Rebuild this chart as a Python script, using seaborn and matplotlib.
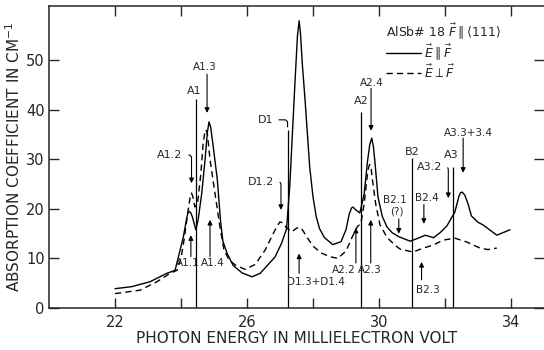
import matplotlib
matplotlib.use("Agg")
import matplotlib.pyplot as plt
import seaborn as sns
import pandas as pd

# absorption spectrum, E parallel F (solid)
par_x = [22.0, 22.5, 23.06, 23.57, 23.82, 23.9, 24.07, 24.17, 24.21, 24.25, 24.3, 24.35,
         24.45, 24.52, 24.63, 24.73, 24.8, 24.85, 24.9, 24.97, 25.1, 25.2,
         25.27, 25.4, 25.58, 25.85, 26.15, 26.4, 26.55, 26.85, 27.05, 27.2,
         27.3, 27.45, 27.53, 27.58, 27.62, 27.68, 27.76, 27.9, 28.0, 28.1, 28.2, 28.35, 28.6,
         28.85, 29.0, 29.1, 29.17, 29.21, 29.3, 29.42, 29.55, 29.65, 29.72, 29.78, 29.83, 29.88,
         29.97, 30.1, 30.24, 30.4, 30.6, 30.94, 31.15, 31.4, 31.65, 31.85,
         32.06, 32.3, 32.42, 32.47, 32.52, 32.6, 32.7, 32.8, 33.0, 33.15, 33.57, 33.97]
par_y = [3.9, 4.3, 5.3, 7.0, 7.6, 9.7, 14.3, 18.0, 19.2, 19.5, 19.2, 18.3,
         15.8, 17.8, 23.2, 30.0, 35.5, 37.6, 36.5, 33.0, 26.0, 17.5,
         13.5, 11.0, 8.6, 7.1, 6.3, 7.0, 8.1, 10.3, 13.1, 16.0,
         25.0, 45.0, 55.0, 58.0, 55.5, 49.0, 42.0, 28.5, 22.5, 18.4, 16.0, 14.2, 12.8,
         13.4, 15.8, 19.0, 20.2, 20.4, 19.8, 19.2, 23.0, 29.5, 33.0, 34.3, 32.6, 29.3,
         22.4, 18.5, 16.4, 15.2, 14.4, 13.5, 14.0, 14.7, 14.2, 15.2,
         16.6, 19.4, 22.5, 23.3, 23.4, 22.8, 21.0, 18.6, 17.3, 16.8, 14.7, 15.8]

# E perpendicular F (dashed)
perp_x = [22.0, 22.76, 23.27, 23.67, 23.88, 24.0, 24.1, 24.2, 24.28, 24.32, 24.36, 24.42,
          24.5, 24.6, 24.67, 24.72, 24.76, 24.8, 24.88, 25.03, 25.18, 25.3, 25.45, 25.64,
          25.94, 26.25, 26.55, 26.8, 26.92, 27.0, 27.08, 27.17, 27.35, 27.5, 27.6, 27.68, 27.8, 28.0,
          28.25, 28.5, 28.75, 29.0, 29.2, 29.35, 29.45, 29.55, 29.65, 29.69, 29.72,
          29.76, 29.8, 29.9, 30.03, 30.25, 30.5, 30.64, 31.03, 31.3, 31.64, 31.94,
          32.3, 32.67, 33.06, 33.3, 33.57]
perp_y = [2.9, 3.6, 5.3, 7.0, 7.6, 10.0, 14.0, 19.0, 22.5, 23.2, 22.5, 20.4,
          21.0, 27.0, 33.0, 35.4, 36.0, 35.2, 30.0, 23.2, 16.4, 11.8, 9.8, 8.7,
          7.8, 8.8, 11.7, 15.1, 16.6, 17.4, 17.2, 16.4, 15.4, 16.1, 16.3, 15.8, 14.5, 12.5,
          11.1, 10.4, 10.0, 11.5, 14.5, 16.5, 17.0, 21.0, 27.0, 28.5, 29.0,
          28.3, 26.0, 21.0, 16.8, 14.2, 12.6, 11.9, 11.3, 12.0, 12.7, 13.7,
          14.1, 13.3, 12.1, 11.8, 12.1]

lab_par = r"$\vec{E}\parallel\vec{F}$"
lab_perp = r"$\vec{E}\perp\vec{F}$"

df = pd.concat([
    pd.DataFrame({"energy": par_x, "alpha": par_y, "pol": lab_par}),
    pd.DataFrame({"energy": perp_x, "alpha": perp_y, "pol": lab_perp}),
], ignore_index=True)

# labelled vertical lines
line_lbl = ["A1", "A2", "B2", "A3"]
line_x = [24.45, 29.47, 30.99, 32.25]
line_top = [42.2, 39.6, 30.3, 28.5]
line_tx = [24.39, 29.45, 31.0, 32.2]
line_ty = [43.9, 41.8, 31.6, 30.9]

# straight arrows: label, text x, text y, arrow x, start, tip
arrows = [
    ("A1.3", 24.73, 48.7, 24.79, 47.2, 39.4),
    ("A2.4", 29.79, 45.5, 29.76, 44.4, 35.8),
    ("A3.3+3.4", 32.7, 35.4, 32.55, 34.3, 27.3),
    ("B2.4", 31.45, 22.2, 31.36, 20.9, 17.0),
    ("B2.1", 30.47, 21.8, 30.6, 18.0, 15.0),
    ("A1.1", 24.22, 9.1, 24.3, 10.4, 14.7),
    ("A1.4", 24.96, 9.1, 24.88, 10.4, 17.8),
    ("D1.3+D1.4", 28.1, 5.3, 27.58, 7.0, 11.0),
    ("A2.2", 28.93, 7.7, 29.3, 9.1, 16.2),
    ("A2.3", 29.72, 7.7, 29.75, 9.1, 17.8),
    ("B2.3", 31.48, 3.6, 31.29, 5.7, 9.3),
]
# hooked arrows: label, text x, text y, tip x, tip y
hooks = [
    ("A1.2", 23.67, 30.9, 24.32, 25.2),
    ("D1.2", 26.42, 25.5, 27.03, 19.8),
    ("A3.2", 31.52, 28.5, 32.1, 22.2),
]

sns.set_style("ticks")
plt.rcParams["font.family"] = ["DejaVu Sans"]

fig = plt.figure(figsize=(5.44, 3.5), dpi=100)
ax = fig.add_axes([0.09, 0.12, 0.91, 0.863])

sns.lineplot(data=df, x="energy", y="alpha", hue="pol", style="pol",
             palette={lab_par: "black", lab_perp: "black"},
             dashes={lab_par: "", lab_perp: (4.5, 3)},
             sort=False, estimator=None, lw=1.0, ax=ax)

ax.vlines(line_x, 0, line_top, color="black", lw=0.9)
for lbl, tx, ty in zip(line_lbl, line_tx, line_ty):
    ax.text(tx, ty, lbl, ha="center", va="center", fontsize=8)

# D1 line with a hooked label
ax.vlines(27.23, 0, 36.0, color="black", lw=0.9)
ax.annotate("D1", xy=(27.23, 36.0), xytext=(26.55, 38.0), ha="center", va="center",
            fontsize=8, arrowprops=dict(arrowstyle="-", lw=0.8, color="black",
                                        connectionstyle="angle,angleA=0,angleB=90,rad=3"))

ap = dict(arrowstyle="-|>", lw=0.8, color="black", mutation_scale=7, shrinkA=0, shrinkB=0)
for lbl, tx, ty, axx, y0, y1 in arrows:
    ax.annotate("", xy=(axx, y1), xytext=(axx, y0), arrowprops=ap)
    ax.text(tx, ty, lbl, ha="center", va="center", fontsize=7.5)
ax.text(30.55, 19.4, "(?)", ha="center", va="center", fontsize=7.5)

for lbl, tx, ty, hx, hy in hooks:
    ax.annotate(lbl, xy=(hx, hy), xytext=(tx, ty), ha="center", va="center", fontsize=8,
                arrowprops=dict(arrowstyle="-|>", lw=0.8, color="black", mutation_scale=7,
                                shrinkB=0,
                                connectionstyle="angle,angleA=0,angleB=90,rad=3"))

ax.set_xlim(20, 35)
ax.set_ylim(0, 61)
ax.set_xticks([22, 24, 26, 28, 30, 32, 34])
ax.set_xticklabels(["22", "", "26", "", "30", "", "34"])
ax.set_yticks([0, 10, 20, 30, 40, 50])
ax.tick_params(direction="in", length=7, width=1, top=True, right=True,
               labelsize=10.5, pad=3)
ax.tick_params(axis="x", pad=5)
ax.spines["right"].set_visible(False)
for s in ["left", "bottom", "top"]:
    ax.spines[s].set_linewidth(1.1)

ax.set_xlabel("PHOTON ENERGY IN MILLIELECTRON VOLT", fontsize=11, labelpad=1)
ax.set_ylabel(r"ABSORPTION COEFFICIENT IN CM$^{-1}$", fontsize=11, labelpad=2)

handles, labels = ax.get_legend_handles_labels()
leg = ax.legend(handles, labels, title=r"AlSb# 18 $\vec{F}\parallel\langle111\rangle$",
                loc="upper left", bbox_to_anchor=(0.68, 0.95), frameon=False,
                fontsize=9, title_fontsize=9, handlelength=2.8, handletextpad=0.3,
                labelspacing=0.1, borderaxespad=0, borderpad=0)
leg._legend_box.align = "left"

fig.savefig("out.png", dpi=100)
